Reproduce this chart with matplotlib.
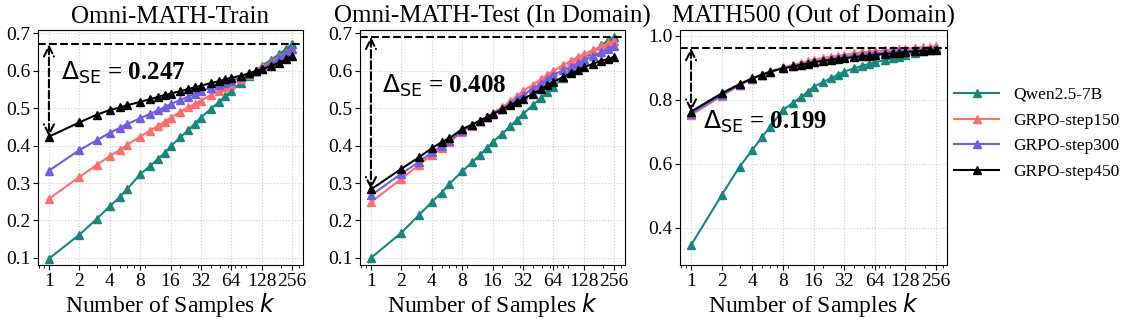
import numpy as np
import matplotlib.pyplot as plt
from matplotlib.ticker import FixedLocator, FixedFormatter, NullFormatter

plt.rcParams['font.family'] = ['Liberation Serif', 'DejaVu Serif']

# number of samples k (marker positions)
k = [1, 2, 3, 4, 5, 6, 8, 10, 12, 14, 16, 20, 24, 28, 32, 40, 48, 56, 64,
     80, 96, 112, 128, 160, 192, 224, 256]
xticks = [1, 2, 4, 8, 16, 32, 64, 128, 256]

labels = ['Qwen2.5-7B', 'GRPO-step150', 'GRPO-step300', 'GRPO-step450']
colors = ['#17877b', '#ff6e6e', '#6f5fe0', 'black']

titles = ['Omni-MATH-Train', 'Omni-MATH-Test (In Domain)', 'MATH500 (Out of Domain)']

# Omni-MATH-Train
train_qwen = [.098, .162, .205, .238, .262, .285, .323, .345, .364, .381, .398, .422, .442, .459,
              .475, .498, .516, .532, .546, .568, .585, .600, .613, .630, .645, .659, .671]
train_s150 = [.258, .316, .349, .372, .388, .403, .424, .440, .453, .464, .474, .490, .503, .512,
              .520, .535, .547, .556, .564, .578, .590, .600, .609, .624, .637, .648, .659]
train_s300 = [.333, .388, .415, .434, .447, .458, .473, .485, .494, .503, .511, .522, .531, .539,
              .546, .555, .562, .568, .573, .583, .592, .600, .606, .620, .634, .646, .657]
train_s450 = [.424, .462, .483, .495, .502, .508, .517, .524, .530, .535, .539, .546, .551, .556,
              .560, .567, .572, .577, .581, .587, .593, .599, .604, .613, .622, .631, .640]

# Omni-MATH-Test
test_qwen = [.100, .167, .215, .249, .274, .298, .331, .355, .375, .393, .409, .432, .452, .469,
             .484, .508, .527, .543, .558, .580, .600, .617, .632, .652, .668, .681, .691]
test_s150 = [.249, .311, .349, .375, .393, .409, .437, .452, .465, .476, .486, .503, .518, .532,
             .546, .562, .577, .589, .600, .615, .627, .636, .644, .656, .666, .674, .680]
test_s300 = [.267, .325, .357, .382, .398, .413, .440, .454, .466, .476, .484, .499, .512, .524,
             .535, .552, .566, .578, .589, .601, .611, .620, .628, .640, .650, .659, .666]
test_s450 = [.283, .338, .369, .393, .409, .420, .444, .456, .467, .476, .484, .497, .508, .517,
             .524, .538, .550, .561, .570, .583, .593, .601, .609, .619, .627, .632, .637]

# MATH500
m500_qwen = [.346, .502, .591, .643, .684, .716, .768, .790, .808, .825, .840, .856, .868, .879,
             .888, .898, .906, .912, .917, .924, .930, .935, .940, .946, .951, .956, .962]
m500_s150 = [.752, .812, .845, .866, .879, .889, .901, .909, .915, .920, .925, .931, .935, .938,
             .941, .945, .948, .950, .952, .955, .957, .959, .960, .962, .964, .966, .967]
m500_s300 = [.757, .815, .847, .866, .878, .887, .898, .905, .910, .915, .919, .924, .928, .931,
             .934, .938, .941, .943, .945, .948, .950, .952, .953, .955, .956, .957, .958]
m500_s450 = [.763, .820, .849, .867, .878, .888, .898, .904, .909, .913, .917, .922, .925, .928,
             .930, .933, .936, .938, .940, .943, .945, .947, .949, .951, .953, .954, .955]

# upper reference line and Delta_SE for each panel
top_level = [0.671, 0.691, 0.962]
delta_se = [0.247, 0.408, 0.199]

panels = [
    [train_qwen, train_s150, train_s300, train_s450],
    [test_qwen, test_s150, test_s300, test_s450],
    [m500_qwen, m500_s150, m500_s300, m500_s450],
]

fig = plt.figure(figsize=(11.21, 3.23), dpi=100)
W, H = 1121, 323
boxes = [(38, 303), (360, 625), (680, 947)]
ylims = [(0.081, 0.709), (0.081, 0.709), (0.284, 1.018)]
yticks = [[0.1, 0.2, 0.3, 0.4, 0.5, 0.6, 0.7], [0.1, 0.2, 0.3, 0.4, 0.5, 0.6, 0.7], [0.4, 0.6, 0.8, 1.0]]
text_pos = [(1.33, 0.594), (1.28, 0.56), (1.31, 0.73)]

for i in range(3):
    l, r = boxes[i]
    ax = fig.add_axes([l / W, (H - 265) / H, (r - l) / W, (265 - 30) / H])
    for ys, lab, c in zip(panels[i], labels, colors):
        ax.plot(k, ys, color=c, lw=1.5, marker='^', ms=6, label=lab)
    ax.set_xscale('log')
    ax.set_xlim(2 ** -0.36, 2 ** 8.36)
    ax.xaxis.set_major_locator(FixedLocator(xticks))
    ax.xaxis.set_major_formatter(FixedFormatter([str(t) for t in xticks]))
    ax.xaxis.set_minor_formatter(NullFormatter())
    ax.set_ylim(*ylims[i])
    ax.set_yticks(yticks[i])
    ax.set_yticklabels(['%.1f' % t for t in yticks[i]])
    ax.tick_params(labelsize=14, length=3.5, pad=2)
    ax.grid(True, which='major', color='#cccccc', ls=':', lw=0.8)
    ax.set_axisbelow(True)
    ax.set_title(titles[i], fontsize=18, pad=5)
    ax.set_xlabel(r'Number of Samples $k$', fontsize=17, labelpad=1)

    low = top_level[i] - delta_se[i]
    ax.axhline(top_level[i], color='black', ls='--', lw=1.5)
    ax.annotate('', xy=(1, low), xytext=(1, top_level[i]),
                arrowprops=dict(arrowstyle='<->', ls='--', lw=1.5, color='black',
                                mutation_scale=18, shrinkA=0, shrinkB=0))
    ax.text(text_pos[i][0], text_pos[i][1], r'$\Delta_{\rm SE}$ = %.3f' % delta_se[i],
            fontsize=18, fontweight='bold', va='center', ha='left')

    if i == 2:
        ax.legend(loc='center left', bbox_to_anchor=(1.0, 0.56), frameon=False,
                  fontsize=12.5, handlelength=2.6, borderaxespad=0, labelspacing=0.55)

fig.savefig('out.png', dpi=100)
